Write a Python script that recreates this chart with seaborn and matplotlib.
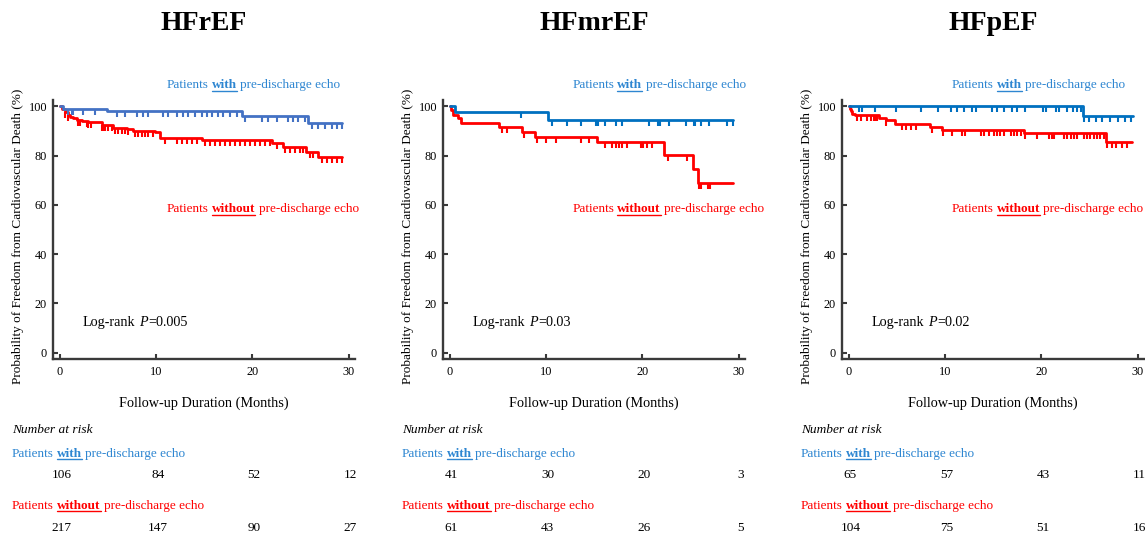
import numpy as np
import matplotlib
matplotlib.use("Agg")
import matplotlib.pyplot as plt
import seaborn as sns
from matplotlib.path import Path
from matplotlib.lines import Line2D
from matplotlib import transforms

# ---------------- data ----------------
panel_titles = ["HFrEF", "HFmrEF", "HFpEF"]
p_values = ["0.005", "0.03", "0.02"]
risk_times = [0, 10, 20, 30]

# HFrEF
hfref_with_t = [0, 0.35, 4.85, 18.9, 25.8]
hfref_with_s = [100, 99.1, 98.2, 96.2, 93.4]
hfref_with_end = 29.3
hfref_with_cens = [0.87, 1.21, 1.39, 2.43, 3.64, 5.89, 6.76, 7.97, 8.66, 9.18, 10.74, 11.26,
                   12.13, 12.82, 13.34, 14.03, 14.73, 15.25, 15.77, 16.46, 16.98, 17.67, 18.37,
                   19.23, 20.96, 21.66, 22.52, 23.74, 24.25, 24.77, 25.47, 26.16, 26.85, 27.55,
                   28.24, 28.76, 29.28]
hfref_without_t = [0, 0.17, 0.52, 0.8, 1.04, 1.39, 1.73, 2.25, 2.95, 4.33, 5.54, 6.93, 7.62,
                   9.88, 10.4, 14.73, 22.0, 23.2, 25.6, 26.85]
hfref_without_s = [100, 98.9, 97.6, 96.6, 95.8, 95.1, 94.6, 94.1, 93.5, 92.5, 91.4, 90.7, 90.1,
                   89.6, 87.3, 86.2, 85.0, 83.4, 81.4, 79.5]
hfref_without_end = 29.35
hfref_without_cens = [0.52, 0.87, 1.91, 2.08, 2.77, 2.95, 3.22, 4.33, 4.5, 4.68, 5.02, 5.37,
                      5.72, 6.06, 6.41, 6.76, 7.1, 7.8, 8.14, 8.49, 8.84, 9.18, 9.7, 10.91,
                      12.13, 12.65, 13.17, 13.69, 14.21, 15.07, 15.59, 16.11, 16.63, 17.15,
                      17.67, 18.19, 18.71, 19.23, 19.75, 20.27, 20.79, 21.31, 21.83, 22.52,
                      23.39, 23.91, 24.43, 24.95, 25.29, 25.99, 26.33, 27.2, 27.72, 28.24,
                      28.76, 29.28]
hfref_risk_with = [106, 84, 52, 12]
hfref_risk_without = [217, 147, 90, 27]

# HFmrEF
hfmref_with_t = [0, 0.52, 10.2]
hfmref_with_s = [100, 97.6, 94.3]
hfmref_with_end = 29.4
hfmref_with_cens = [7.37, 10.56, 12.11, 13.6, 15.16, 15.33, 16.1, 17.3, 17.83, 20.66, 21.63,
                    21.8, 22.74, 24.47, 25.37, 25.5, 26.06, 26.93, 28.73, 29.42]
hfmref_without_t = [0, 0.1, 0.3, 0.8, 1.15, 5.1, 7.45, 8.85, 15.3, 22.2, 25.3, 25.8]
hfmref_without_s = [100, 98.4, 96.7, 95.1, 93.4, 91.8, 89.8, 87.6, 85.5, 80.4, 74.5, 68.8]
hfmref_without_end = 29.4
hfmref_without_cens = [5.43, 5.88, 7.72, 9.0, 9.93, 10.97, 13.6, 14.43, 16.1, 16.79, 17.2,
                       17.55, 17.83, 18.35, 19.83, 20.08, 20.42, 20.94, 22.67, 24.58, 25.86,
                       26.06, 26.82, 27.0]
hfmref_risk_with = [41, 30, 20, 3]
hfmref_risk_without = [61, 43, 26, 5]

# HFpEF
hfpef_with_t = [0, 24.35]
hfpef_with_s = [100, 96.0]
hfpef_with_end = 29.5
hfpef_with_cens = [1.04, 1.38, 2.67, 4.85, 7.44, 9.24, 10.56, 11.25, 11.94, 12.8, 13.15, 14.82,
                   15.4, 16.1, 16.96, 17.48, 18.28, 20.18, 20.52, 21.46, 21.8, 22.67, 23.3,
                   23.71, 24.06, 24.4, 24.92, 25.68, 26.31, 27.17, 27.93, 28.63, 29.32]
hfpef_without_t = [0, 0.1, 0.2, 0.35, 0.6, 3.12, 3.8, 4.8, 8.45, 9.7, 18.2, 26.7]
hfpef_without_s = [100, 99.0, 98.0, 97.1, 96.5, 95.4, 94.3, 92.9, 91.7, 90.4, 89.1, 85.6]
hfpef_without_end = 29.4
hfpef_without_cens = [0.87, 1.21, 1.9, 2.25, 2.6, 2.77, 2.94, 3.9, 5.54, 5.88, 6.4, 6.92, 8.65,
                      9.79, 10.73, 11.77, 12.01, 13.67, 14.02, 14.54, 15.06, 15.4, 15.68,
                      16.09, 16.79, 17.13, 17.48, 17.83, 18.34, 19.56, 20.77, 21.11, 21.29,
                      22.33, 22.67, 23.02, 23.36, 23.71, 24.4, 24.75, 25.09, 25.44, 25.79,
                      26.13, 26.48, 26.83, 27.34, 27.69, 28.38, 28.9]
hfpef_risk_with = [65, 57, 43, 11]
hfpef_risk_without = [104, 75, 51, 16]

panels = [
    dict(with_t=hfref_with_t, with_s=hfref_with_s, with_end=hfref_with_end, with_c=hfref_with_cens,
         wo_t=hfref_without_t, wo_s=hfref_without_s, wo_end=hfref_without_end, wo_c=hfref_without_cens,
         r_with=hfref_risk_with, r_wo=hfref_risk_without, blue="#4472C4", ann_x=11.1),
    dict(with_t=hfmref_with_t, with_s=hfmref_with_s, with_end=hfmref_with_end, with_c=hfmref_with_cens,
         wo_t=hfmref_without_t, wo_s=hfmref_without_s, wo_end=hfmref_without_end, wo_c=hfmref_without_cens,
         r_with=hfmref_risk_with, r_wo=hfmref_risk_without, blue="#0070C0", ann_x=12.7),
    dict(with_t=hfpef_with_t, with_s=hfpef_with_s, with_end=hfpef_with_end, with_c=hfpef_with_cens,
         wo_t=hfpef_without_t, wo_s=hfpef_without_s, wo_end=hfpef_without_end, wo_c=hfpef_without_cens,
         r_with=hfpef_risk_with, r_wo=hfpef_risk_without, blue="#0070C0", ann_x=10.65),
]

# ---------------- style ----------------
W, H, DPI = 1145, 536, 100
sns.set_style("ticks")
plt.rcParams["font.family"] = ["Liberation Serif", "DejaVu Serif"]
plt.rcParams["text.color"] = "black"
plt.rcParams["axes.labelcolor"] = "black"
plt.rcParams["xtick.color"] = "black"
plt.rcParams["ytick.color"] = "black"

RED = "#FF0000"
TXT_BLUE = "#2E86D1"
SPINE = "#3a3a3a"

fig = plt.figure(figsize=(W / DPI, H / DPI), dpi=DPI)
renderer = fig.canvas.get_renderer()

tick_marker = Path([(0, 0), (0, -1)])


def rich(x0, y_top, parts, size, color):
    """Draw text fragments side by side; x0 in display px, y_top = baseline px from top."""
    y = H - y_top
    sp = 0.25 * size * DPI / 72
    cur = x0
    for txt, st, gap in parts:
        t = fig.text(cur / W, y / H, txt, ha="left", va="baseline", fontsize=size,
                     fontweight="bold" if "b" in st else "normal",
                     fontstyle="italic" if "i" in st else "normal", color=color)
        bb = t.get_window_extent(renderer)
        if "u" in st:
            uy = y - 2.2
            fig.add_artist(Line2D([bb.x0 / W, bb.x1 / W], [uy / H, uy / H], color=color,
                                  lw=1.0, transform=fig.transFigure))
        cur = bb.x1 + (sp if gap else 0)


def step_value(times, surv, x):
    idx = np.searchsorted(np.asarray(times), np.asarray(x), side="right") - 1
    return np.asarray(surv)[idx]


ax_lefts = [53, 443, 842]
AX_W, AX_B, AX_H = 302, 359, 259

for i, (pd_, left) in enumerate(zip(panels, ax_lefts)):
    ax = fig.add_axes([left / W, (H - AX_B) / H, AX_W / W, AX_H / H])

    for t_, s_, end, cens, col in [
        (pd_["wo_t"], pd_["wo_s"], pd_["wo_end"], pd_["wo_c"], RED),
        (pd_["with_t"], pd_["with_s"], pd_["with_end"], pd_["with_c"], pd_["blue"]),
    ]:
        xs = list(t_) + [end]
        ys = list(s_) + [s_[-1]]
        sns.lineplot(x=xs, y=ys, drawstyle="steps-post", estimator=None, sort=False,
                     color=col, linewidth=2.0, ax=ax)
        cy = step_value(t_, s_, cens)
        sns.scatterplot(x=cens, y=cy, marker=tick_marker, s=85, color=col, edgecolor=col,
                        linewidth=1.5, ax=ax, zorder=3)

    ax.set_xlim(-0.72, 30.65)
    ax.set_ylim(-2.6, 102.6)
    ax.set_xticks(risk_times)
    ax.set_yticks([0, 20, 40, 60, 80, 100])
    sns.despine(ax=ax)
    for sp_ in ["left", "bottom"]:
        ax.spines[sp_].set_color(SPINE)
        ax.spines[sp_].set_linewidth(1.7)
    ax.tick_params(direction="in", length=3.6, width=1.5, color=SPINE, labelsize=8.8,
                   labelcolor="black")
    ax.tick_params(axis="y", pad=4.3)
    ax.tick_params(axis="x", pad=5)
    ax.set_xlabel("Follow-up Duration (Months)", fontsize=10.3, color="black")
    ax.xaxis.set_label_coords(0.5, -0.145)
    ax.set_ylabel("Probability of Freedom from Cardiovascular Death (%)", fontsize=9.5,
                  color="black")
    ax.yaxis.set_label_coords(-0.095, 0.475)

    # title
    cx = (left + AX_W / 2) / W
    fig.text(cx, (H - 30) / H, panel_titles[i], ha="center", va="baseline",
             fontsize=20, fontweight="bold", color="black")

    # curve annotations
    x_ann = ax.transData.transform((pd_["ann_x"], 0))[0]
    rich(x_ann, 88.3, [("Patients", "", True), ("with", "bu", True),
                       ("pre-discharge echo", "", False)], 9.5, TXT_BLUE)
    rich(x_ann, 212.3, [("Patients", "", True), ("without", "bu", True),
                        ("pre-discharge echo", "", False)], 9.5, RED)

    # log-rank
    x_lr = ax.transData.transform((2.4, 0))[0]
    rich(x_lr, 325.7, [("Log-rank", "", True), ("P", "i", False),
                       ("=" + p_values[i], "", False)], 10.2, "black")

    # number at risk table
    x_tab = left - 41
    rich(x_tab, 433.3, [("Number at risk", "i", False)], 9.6, "black")
    rich(x_tab, 456.7, [("Patients", "", True), ("with", "bu", True),
                        ("pre-discharge echo", "", False)], 9.5, TXT_BLUE)
    rich(x_tab, 509.0, [("Patients", "", True), ("without", "bu", True),
                        ("pre-discharge echo", "", False)], 9.5, RED)
    trans = transforms.blended_transform_factory(ax.transData, fig.transFigure)
    for tt, n1, n2 in zip(risk_times, pd_["r_with"], pd_["r_wo"]):
        ax.text(tt + 0.15, (H - 478.3) / H, str(n1), transform=trans, ha="center",
                va="baseline", fontsize=9.5, color="black")
        ax.text(tt + 0.15, (H - 530.7) / H, str(n2), transform=trans, ha="center",
                va="baseline", fontsize=9.5, color="black")

fig.savefig("out.png", dpi=DPI)
